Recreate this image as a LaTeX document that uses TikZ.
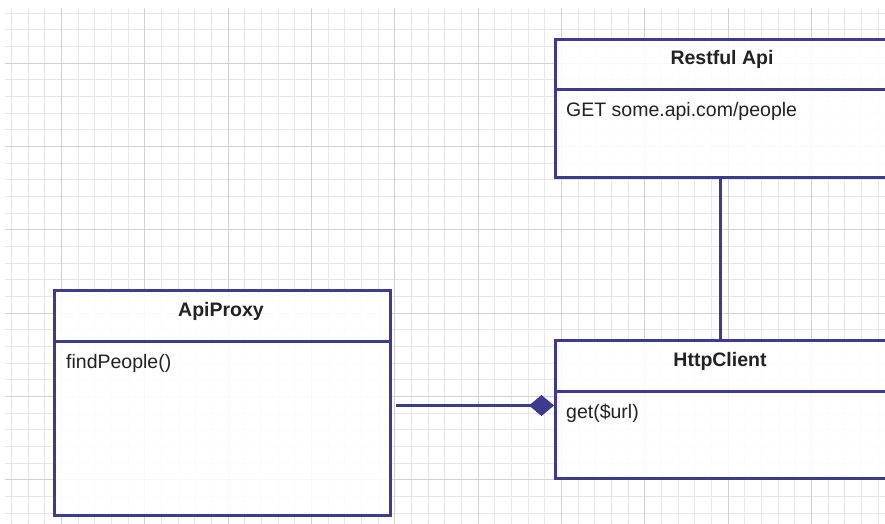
\documentclass[tikz,border=0pt]{standalone}
\usepackage{fontspec}
\setmainfont{Liberation Sans}
\usetikzlibrary{arrows.meta}
\definecolor{umlblue}{HTML}{3E3B8E}
\definecolor{gridminor}{HTML}{E6E6E6}
\definecolor{gridmajor}{HTML}{D2D2D2}
\definecolor{txt}{HTML}{222222}
\tikzset{
  box/.style={draw=umlblue, line width=3pt, fill=white, fill opacity=0.85, text opacity=1, anchor=north west, inner sep=0pt, rectangle},
  divider/.style={draw=umlblue, line width=3pt},
  conn/.style={draw=umlblue, line width=3pt},
  title/.style={font=\bfseries\fontsize{19.5}{22}\selectfont, text=txt, anchor=base, inner sep=0pt},
  member/.style={font=\fontsize{19.5}{22}\selectfont, text=txt, anchor=base west, inner sep=0pt},
}
\begin{document}
\begin{tikzpicture}[x=1pt, y=-1pt]
\useasboundingbox (0,0) rectangle (885,524);
\clip (0,0) rectangle (885,524);
\fill[white] (0,0) rectangle (885,524);
% grid
\foreach \i in {0,...,52} {
  \pgfmathsetmacro{\xx}{round(11.0+16.667*\i)+0.5}
  \draw[gridminor, line width=1pt] (\xx,8) -- (\xx,524);
}
\foreach \i in {0,...,31} {
  \pgfmathsetmacro{\yy}{round(12.7+16.667*\i)+0.5}
  \draw[gridminor, line width=1pt] (5,\yy) -- (885,\yy);
}
\foreach \i in {0,...,10} {
  \pgfmathsetmacro{\xx}{round(61+83.333*\i)+0.5}
  \draw[gridmajor, line width=1pt] (\xx,8) -- (\xx,524);
}
\foreach \i in {0,...,6} {
  \pgfmathsetmacro{\yy}{round(62.7+83.333*\i)+0.5}
  \draw[gridmajor, line width=1pt] (5,\yy) -- (885,\yy);
}
% boxes
\node[box, minimum width=420pt, minimum height=138pt] (rest) at (554,38) {};
\node[box, minimum width=420pt, minimum height=138pt] (http) at (554,339) {};
\node[box, minimum width=336pt, minimum height=225pt] (proxy) at (53,289) {};
% dividers
\draw[divider] ([yshift=-52pt]rest.north west) -- ([yshift=-52pt]rest.north east);
\draw[divider] ([yshift=-52pt]http.north west) -- ([yshift=-52pt]http.north east);
\draw[divider] ([yshift=-52pt]proxy.north west) -- ([yshift=-52pt]proxy.north east);
% texts
\node[title] (restT) at (722,65) {Restful Api};
\node[member] (restM) at (566,117) {GET some.api.com/people};
\node[title] (httpT) at (720,366) {HttpClient};
\node[member] (httpM) at (566,418) {get(\$url)};
\node[title] (proxyT) at (221,316) {ApiProxy};
\node[member] (proxyM) at (66,368) {findPeople()};
% connectors
\draw[conn] ([xshift=166pt]rest.south west) -- ([xshift=166pt]http.north west);
\draw[conn, -{Diamond[length=25pt, width=21pt, fill=umlblue]}, shorten <=4pt]
  ([yshift=-2.5pt]proxy.east) -- ([yshift=-2.5pt]proxy.east -| http.west);
\end{tikzpicture}
\end{document}
